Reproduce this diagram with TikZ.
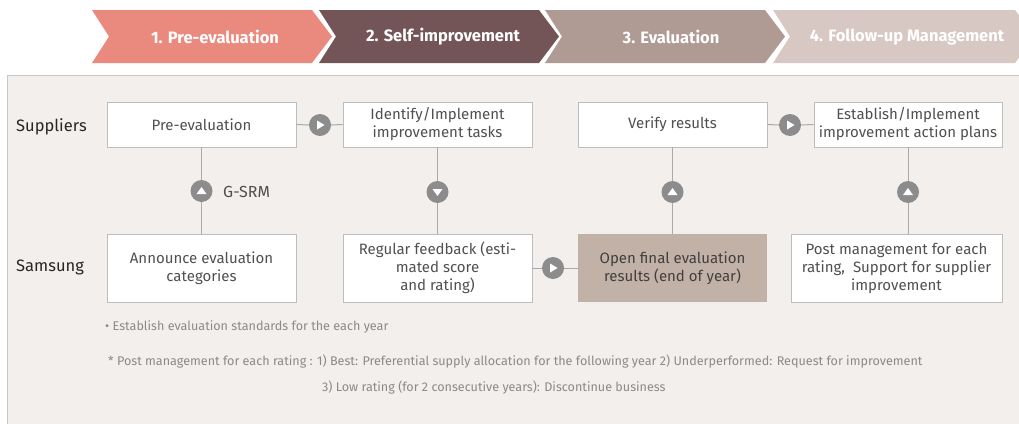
\documentclass[tikz,border=0pt]{standalone}
\usepackage{fontspec}
\setmainfont{Fira Sans}
\usetikzlibrary{calc}
\definecolor{cA}{HTML}{EA8A7E}
\definecolor{cB}{HTML}{735558}
\definecolor{cC}{HTML}{B09A94}
\definecolor{cD}{HTML}{D8C8C4}
\definecolor{panel}{HTML}{F2EFEC}
\definecolor{pborder}{HTML}{C8C8C8}
\definecolor{bborder}{HTML}{BDBDBD}
\definecolor{btext}{HTML}{505050}
\definecolor{lgray}{HTML}{AAAAAA}
\definecolor{cgray}{HTML}{8C8C8C}
\definecolor{ofill}{HTML}{C2B1A6}
\definecolor{ntext}{HTML}{8A8A8A}
\begin{document}
\begin{tikzpicture}[x=1pt,y=-1pt,
  hdr/.style={text=white,font=\fontsize{16.5}{18}\selectfont\bfseries},
  box/.style={draw=bborder,fill=white,line width=0.8pt,text=btext,align=center,
    font=\fontsize{15}{18}\selectfont,inner sep=0pt,minimum width=189pt},
  rowlbl/.style={text=black!85,font=\fontsize{16.5}{18}\selectfont,anchor=west,inner sep=0pt},
  conn/.style={draw=lgray,line width=1pt},
  circ/.style={circle,fill=cgray,minimum size=22pt,inner sep=0pt},
  tright/.style={circ,path picture={\fill[white] ([xshift=-3pt,yshift=4.5pt]path picture bounding box.center) -- ([xshift=-3pt,yshift=-4.5pt]path picture bounding box.center) -- ([xshift=4.5pt]path picture bounding box.center) -- cycle;}},
  tup/.style={circ,path picture={\fill[white] ([xshift=-5pt,yshift=-3pt]path picture bounding box.center) -- ([xshift=5pt,yshift=-3pt]path picture bounding box.center) -- ([yshift=4pt]path picture bounding box.center) -- cycle;}},
  tdown/.style={circ,path picture={\fill[white] ([xshift=-5pt,yshift=3pt]path picture bounding box.center) -- ([xshift=5pt,yshift=3pt]path picture bounding box.center) -- ([yshift=-4pt]path picture bounding box.center) -- cycle;}},
  note/.style={text=ntext,font=\fontsize{12.6}{14}\selectfont,anchor=west,inner sep=0pt}
]
\useasboundingbox (0,0) rectangle (1019,423);
\begin{scope}
\clip (0,0) rectangle (1019,423);
% chevrons
\foreach \x/\c in {92/cA,319/cB,545/cC}{
  \fill[\c] (\x,10) -- (\x+220,10) -- (\x+240,36.5) -- (\x+220,63) -- (\x,63) -- (\x+17,36.5) -- cycle;
}
\fill[cD] (773,10) -- (1015,10) -- (1035,36.5) -- (1015,63) -- (773,63) -- (790,36.5) -- cycle;
\node[hdr] (h1) at (215,37) {1. Pre-evaluation};
\node[hdr] (h2) at (443,37) {2. Self-improvement};
\node[hdr] (h3) at (671,37) {3. Evaluation};
\node[hdr] (h4) at (907,37) {4. Follow-up Management};
% panel
\filldraw[fill=panel,draw=pborder,line width=1pt] (7,75) rectangle (1030,440);
\end{scope}
% row labels
\node[rowlbl] (ls) at (16,127) {Suppliers};
\node[rowlbl] (lm) at (16,267) {Samsung};
% boxes row 1
\node[box,minimum height=45pt] (s1) at (201.5,124.5) {Pre-evaluation};
\node[box,minimum height=45pt] (s2) at (437.5,124.5) {Identify/Implement\\improvement tasks};
\node[box,minimum height=45pt] (s3) at (672.5,124.5) {Verify results};
\node[box,minimum height=45pt,minimum width=188pt] (s4) at (908,124.5) {Establish/Implement\\improvement action plans};
% boxes row 2
\node[box,minimum height=68pt] (m1) at (201.5,268) {Announce evaluation\\categories};
\node[box,minimum height=68pt] (m2) at (437.5,268) {Regular feedback (esti-\\mated score\\and rating)};
\node[box,minimum height=68pt,draw=none,fill=ofill,text=black!75] (m3) at (672.5,268) {Open final evaluation\\results (end of year)};
\node[box,minimum height=68pt,minimum width=211pt] (m4) at (896.5,268) {Post management for each\\rating,\ \ Support for supplier\\improvement};
% circles
\node[tright] (ch1) at (320,125) {};
\node[tright] (ch2) at (790,125) {};
\node[tright] (ch3) at (553,268) {};
\node[tup] (cv1) at (201.5,191) {};
\node[tdown] (cv2) at (437.5,192) {};
\node[tup] (cv3) at (672.5,192) {};
\node[tup] (cv4) at (908,192) {};
\node[text=btext,font=\fontsize{16}{18}\selectfont,anchor=west,inner sep=0pt] (gsrm) at (223,192) {G-SRM};
% connectors
\draw[conn] (s1.east) -- (ch1.west);
\draw[conn] (ch1.east) -- (s2.west);
\draw[conn] (s3.east) -- (ch2.west);
\draw[conn] (ch2.east) -- (s4.west);
\draw[conn] (m2.east) -- (ch3.west);
\draw[conn] (ch3.east) -- (m3.west);
\draw[conn] (s1.south) -- (cv1.north);
\draw[conn] (cv1.south) -- (m1.north);
\draw[conn] (s2.south) -- (cv2.north);
\draw[conn] (cv2.south) -- (m2.north);
\draw[conn] (s3.south) -- (cv3.north);
\draw[conn] (cv3.south) -- (m3.north);
\draw[conn] (s4.south) -- (cv4.north);
\draw[conn] (cv4.south) -- (cv4 |- m4.north);
% notes
\node[note] (n1) at (105,327) {• Establish evaluation standards for the each year};
\node[note] (n2) at (108,362) {* Post management for each rating : 1) Best: Preferential supply allocation for the following year 2) Underperformed: Request for improvement};
\node[note] (n3) at (322,388) {3) Low rating (for 2 consecutive years): Discontinue business};
\end{tikzpicture}
\end{document}
